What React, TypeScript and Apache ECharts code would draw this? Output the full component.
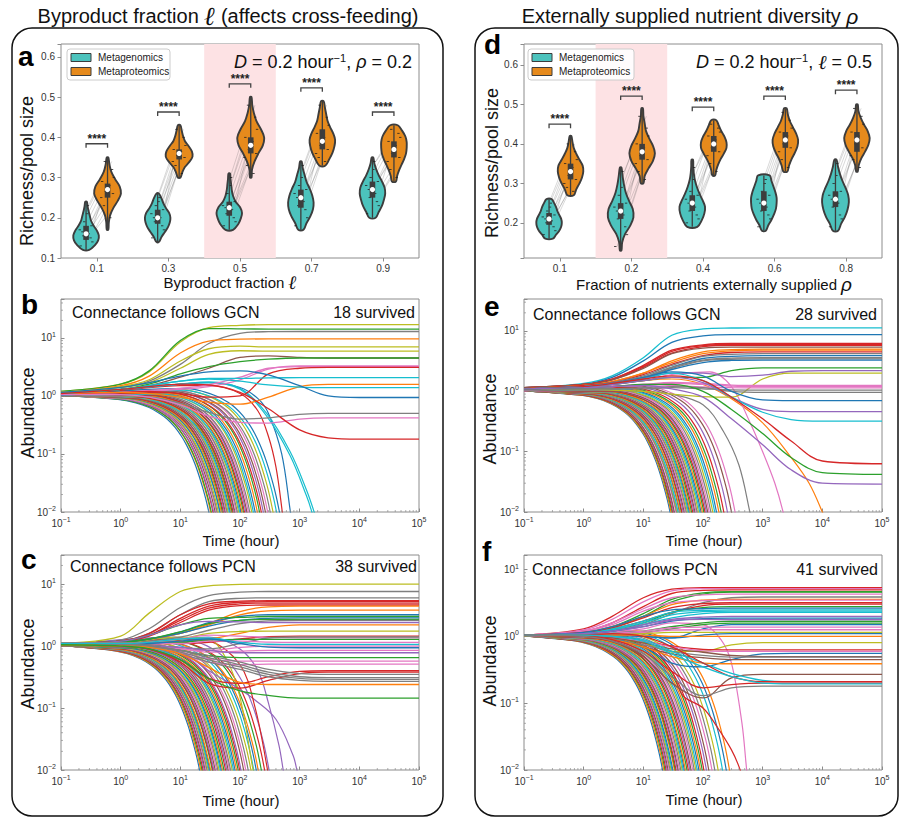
import React, { useEffect, useRef } from 'react';
import * as echarts from 'echarts';

const FONT = '"Liberation Sans", Arial, Helvetica, sans-serif';
const TEAL = '#4cc3bd';
const ORANGE = '#e68a1c';
const EDGE = '#3d3d3d';
const PINK = '#fde2e4';
const AXIS_GRAY = '#8c8c8c';
const LABEL = '#333333';
const TAB10 = ['#1f77b4', '#ff7f0e', '#2ca02c', '#d62728', '#9467bd', '#8c564b', '#e377c2', '#7f7f7f', '#bcbd22', '#17becf'];

// ---------------- Panel a (violins, byproduct fraction) ----------------
const catsA = ['0.1', '0.3', '0.5', '0.7', '0.9'];
const shadedA = 2;
const metaGRangeA = [[0.12, 0.24], [0.14, 0.26], [0.17, 0.31], [0.17, 0.34], [0.20, 0.35]];
const metaGBoxA = [[0.145, 0.16, 0.18], [0.185, 0.20, 0.22], [0.205, 0.225, 0.24], [0.225, 0.25, 0.27], [0.25, 0.27, 0.29]];
const metaGShapeA = [
  [0.25, 0.7, 0.95, 1.0, 0.85, 0.6, 0.4, 0.3, 0.2, 0.12, 0.05],
  [0.1, 0.3, 0.55, 0.8, 0.95, 1.0, 0.9, 0.65, 0.45, 0.3, 0.1],
  [0.3, 0.7, 0.9, 1.0, 0.85, 0.5, 0.3, 0.2, 0.15, 0.1, 0.05],
  [0.2, 0.45, 0.75, 0.95, 1.0, 0.9, 0.7, 0.45, 0.3, 0.15, 0.05],
  [0.25, 0.5, 0.75, 0.9, 1.0, 0.95, 0.75, 0.5, 0.3, 0.15, 0.05],
];
const metaPRangeA = [[0.17, 0.35], [0.30, 0.43], [0.30, 0.50], [0.33, 0.49], [0.29, 0.43]];
const metaPBoxA = [[0.25, 0.27, 0.285], [0.345, 0.36, 0.37], [0.36, 0.38, 0.40], [0.37, 0.39, 0.42], [0.35, 0.37, 0.39]];
const metaPShapeA = [
  [0.05, 0.1, 0.2, 0.45, 0.8, 1.05, 0.95, 0.6, 0.3, 0.15, 0.05],
  [0.1, 0.25, 0.45, 0.8, 1.05, 1.0, 0.75, 0.45, 0.3, 0.2, 0.1],
  [0.05, 0.1, 0.3, 0.6, 0.95, 1.05, 0.8, 0.45, 0.25, 0.12, 0.05],
  [0.25, 0.55, 0.8, 0.95, 1.0, 0.85, 0.6, 0.4, 0.3, 0.2, 0.1],
  [0.15, 0.25, 0.4, 0.6, 0.8, 0.95, 1.0, 1.0, 0.9, 0.65, 0.3],
];
const bracketA = [0.384, 0.463, 0.533, 0.523, 0.463];
const pairGA = [
  [0.13, 0.14, 0.15, 0.155, 0.16, 0.165, 0.17, 0.18, 0.19, 0.21, 0.23],
  [0.15, 0.17, 0.18, 0.19, 0.2, 0.2, 0.21, 0.22, 0.23, 0.24, 0.25],
  [0.18, 0.19, 0.2, 0.21, 0.22, 0.225, 0.23, 0.24, 0.26, 0.28, 0.3],
  [0.18, 0.2, 0.22, 0.23, 0.24, 0.25, 0.26, 0.27, 0.28, 0.3, 0.33],
  [0.21, 0.23, 0.24, 0.25, 0.26, 0.27, 0.28, 0.29, 0.3, 0.32, 0.34],
];
const pairPA = [
  [0.2, 0.23, 0.25, 0.26, 0.265, 0.27, 0.28, 0.29, 0.3, 0.32, 0.34],
  [0.31, 0.33, 0.34, 0.35, 0.355, 0.36, 0.365, 0.37, 0.38, 0.4, 0.42],
  [0.31, 0.33, 0.35, 0.36, 0.37, 0.38, 0.39, 0.4, 0.42, 0.45, 0.48],
  [0.34, 0.35, 0.36, 0.37, 0.38, 0.39, 0.4, 0.41, 0.43, 0.45, 0.48],
  [0.3, 0.32, 0.34, 0.35, 0.36, 0.37, 0.38, 0.39, 0.4, 0.41, 0.42],
];

// ---------------- Panel d (violins, nutrient fraction) ----------------
const catsD = ['0.1', '0.2', '0.4', '0.6', '0.8'];
const shadedD = 1;
const metaGRangeD = [[0.16, 0.26], [0.13, 0.34], [0.19, 0.36], [0.18, 0.32], [0.18, 0.36]];
const metaGBoxD = [[0.195, 0.21, 0.225], [0.21, 0.23, 0.25], [0.23, 0.25, 0.27], [0.23, 0.25, 0.28], [0.24, 0.26, 0.28]];
const metaGShapeD = [
  [0.3, 0.55, 0.8, 0.95, 1.0, 0.95, 0.8, 0.65, 0.55, 0.4, 0.2],
  [0.05, 0.12, 0.35, 0.75, 1.0, 0.95, 0.65, 0.4, 0.25, 0.15, 0.05],
  [0.4, 0.75, 0.95, 1.0, 0.8, 0.55, 0.35, 0.2, 0.12, 0.08, 0.05],
  [0.15, 0.35, 0.6, 0.8, 0.95, 1.0, 1.0, 0.9, 0.75, 0.6, 0.45],
  [0.2, 0.45, 0.75, 0.95, 1.05, 1.0, 0.8, 0.55, 0.35, 0.2, 0.08],
];
const metaPRangeD = [[0.27, 0.42], [0.30, 0.49], [0.32, 0.46], [0.33, 0.49], [0.33, 0.50]];
const metaPBoxD = [[0.31, 0.33, 0.35], [0.36, 0.38, 0.40], [0.38, 0.40, 0.42], [0.39, 0.41, 0.43], [0.38, 0.41, 0.43]];
const metaPShapeD = [
  [0.25, 0.45, 0.7, 0.9, 1.0, 0.95, 0.7, 0.45, 0.25, 0.15, 0.05],
  [0.1, 0.2, 0.5, 0.85, 1.0, 0.85, 0.55, 0.3, 0.2, 0.1, 0.05],
  [0.1, 0.2, 0.35, 0.55, 0.8, 1.0, 1.0, 0.85, 0.6, 0.4, 0.2],
  [0.15, 0.3, 0.5, 0.75, 0.95, 1.0, 0.85, 0.6, 0.35, 0.2, 0.1],
  [0.05, 0.15, 0.35, 0.65, 0.9, 1.0, 0.85, 0.55, 0.3, 0.12, 0.05],
];
const bracketD = [0.45, 0.521, 0.493, 0.521, 0.536];
const pairGD = [
  [0.17, 0.18, 0.19, 0.2, 0.205, 0.21, 0.215, 0.22, 0.23, 0.24, 0.25],
  [0.14, 0.17, 0.19, 0.21, 0.22, 0.23, 0.24, 0.25, 0.27, 0.29, 0.33],
  [0.2, 0.21, 0.22, 0.23, 0.24, 0.25, 0.26, 0.27, 0.28, 0.31, 0.34],
  [0.19, 0.21, 0.22, 0.23, 0.24, 0.25, 0.26, 0.27, 0.28, 0.3, 0.31],
  [0.19, 0.21, 0.22, 0.24, 0.25, 0.26, 0.27, 0.28, 0.3, 0.32, 0.35],
];
const pairPD = [
  [0.28, 0.29, 0.3, 0.31, 0.32, 0.33, 0.34, 0.35, 0.36, 0.38, 0.4],
  [0.31, 0.33, 0.35, 0.36, 0.37, 0.38, 0.39, 0.4, 0.42, 0.44, 0.47],
  [0.33, 0.35, 0.37, 0.38, 0.39, 0.4, 0.41, 0.42, 0.43, 0.44, 0.45],
  [0.34, 0.36, 0.38, 0.39, 0.4, 0.41, 0.42, 0.43, 0.44, 0.46, 0.48],
  [0.34, 0.36, 0.37, 0.39, 0.4, 0.41, 0.42, 0.43, 0.45, 0.47, 0.49],
];

// ---------------- Trajectory panels (b, c, e, f) ----------------
const timeGrid = [0.1, 1, 3, 10, 30, 100, 300, 1000, 3000, 10000, 100000];
// shape of a dying species: time relative to the time it hits 1e-2, value relative to its level
const decayT = [0.03, 0.06, 0.1, 0.15, 0.2, 0.27, 0.35, 0.42, 0.5, 0.58, 0.65, 0.72, 0.8, 0.9, 1.0, 1.25];
const decayV = [0.87, 0.76, 0.63, 0.5, 0.4, 0.29, 0.2, 0.145, 0.1, 0.069, 0.05, 0.036, 0.025, 0.016, 0.01, 0.0032];

// survivors: [tab10 colour index, values at timeGrid]
const survB = [
  [8, [1.2, 1.6, 2.6, 8.5, 15, 16.5, 16.9, 16.9, 16.9, 16.9, 16.9]],
  [2, [1.2, 1.6, 2.7, 9, 14.5, 14.3, 14.2, 14.2, 14.2, 14.2, 14.2]],
  [7, [1.15, 1.4, 1.8, 3.5, 8, 12, 12.8, 12.9, 12.9, 12.9, 12.9]],
  [1, [1.15, 1.5, 2.2, 5.5, 8.8, 9.5, 9.6, 9.6, 9.6, 9.6, 9.6]],
  [8, [1.15, 1.45, 1.9, 4, 6.5, 7.2, 7.0, 7.0, 7.0, 7.0, 7.0]],
  [8, [1.15, 1.4, 1.7, 3, 5.2, 6.0, 5.9, 5.9, 5.9, 5.9, 5.9]],
  [5, [1.1, 1.3, 1.5, 2.1, 3, 4.6, 4.9, 4.6, 4.5, 4.5, 4.5]],
  [2, [1.1, 1.3, 1.6, 2.4, 3.2, 3.9, 4.3, 4.5, 4.5, 4.5, 4.5]],
  [6, [1.1, 1.15, 1.2, 1.3, 1.45, 1.9, 2.9, 3.3, 3.3, 3.3, 3.3]],
  [6, [1.1, 1.15, 1.25, 1.35, 1.55, 2.1, 3.0, 3.2, 3.2, 3.2, 3.2]],
  [3, [1.1, 1.15, 1.2, 1.1, 0.95, 1.0, 2.4, 3.0, 3.1, 3.1, 3.1]],
  [9, [1.1, 1.3, 1.5, 1.8, 2.0, 2.0, 2.05, 2.06, 2.06, 2.06, 2.06]],
  [1, [1.1, 1.15, 1.1, 0.95, 0.78, 0.72, 0.95, 1.45, 1.58, 1.58, 1.58]],
  [9, [1.1, 1.3, 1.5, 1.8, 1.95, 1.8, 1.55, 1.42, 1.39, 1.39, 1.39]],
  [0, [1.15, 1.4, 1.7, 2.2, 2.6, 2.7, 2.3, 1.5, 1.0, 0.94, 0.94]],
  [7, [1.05, 1.05, 0.95, 0.75, 0.52, 0.4, 0.42, 0.48, 0.5, 0.5, 0.5]],
  [6, [1.05, 1.05, 0.95, 0.7, 0.45, 0.35, 0.34, 0.4, 0.42, 0.42, 0.42]],
  [3, [1.1, 1.3, 1.45, 1.6, 1.55, 1.15, 0.6, 0.26, 0.19, 0.18, 0.18]],
];
// extinct: [time when it reaches 1e-2, level]
const extB = [[30, 1.0], [32, 1.02], [33, 1.0], [35, 1.03], [36, 1.01], [38, 1.04], [40, 1.02], [41, 1.05], [43, 1.03], [45, 1.06], [46, 1.04], [48, 1.05], [50, 1.07], [52, 1.05], [54, 1.08], [56, 1.06], [58, 1.1], [60, 1.07], [62, 1.1], [65, 1.08], [67, 1.12], [70, 1.1], [72, 1.12], [75, 1.1], [78, 1.14], [80, 1.12], [84, 1.15], [88, 1.12], [92, 1.16], [96, 1.14], [100, 1.18], [105, 1.15], [110, 1.2], [115, 1.17], [120, 1.22], [126, 1.2], [132, 1.25], [140, 1.22], [150, 1.28], [160, 1.25], [170, 1.3], [185, 1.3], [200, 1.35], [215, 1.32], [230, 1.4], [250, 1.38], [270, 1.45], [300, 1.4], [330, 1.5], [380, 1.45], [420, 1.55]];
const specialB = [
  [3, [0.1, 1, 10, 30, 100, 200, 300, 400, 500, 560], [1.1, 1.25, 1.5, 1.5, 1.1, 0.55, 0.2, 0.06, 0.012, 0.004]],
  [0, [0.1, 1, 10, 30, 100, 200, 300, 500, 700, 800], [1.1, 1.3, 1.6, 1.7, 1.4, 0.9, 0.5, 0.1, 0.01, 0.004]],
  [9, [0.1, 1, 10, 30, 100, 280, 690, 1300, 1600, 1900], [1.1, 1.3, 1.6, 1.7, 1.3, 0.45, 0.094, 0.019, 0.01, 0.005]],
  [9, [0.1, 1, 10, 30, 100, 280, 690, 1300, 1750, 2000], [1.1, 1.3, 1.6, 1.75, 1.35, 0.5, 0.11, 0.024, 0.01, 0.006]],
];

const survC = [
  [8, [1.1, 1.45, 3.4, 7.6, 9.4, 9.9, 10, 10, 10, 10, 10]],
  [7, [1.1, 1.25, 1.9, 4.2, 6.5, 7.4, 7.6, 7.6, 7.6, 7.6, 7.6]],
  [7, [1.1, 1.2, 1.6, 3.2, 5.2, 5.9, 6.0, 6.0, 6.0, 6.0, 6.0]],
  [3, [1.1, 1.2, 1.6, 3.2, 4.8, 5.3, 5.4, 5.4, 5.4, 5.4, 5.4]],
  [3, [1.1, 1.2, 1.5, 2.8, 4.4, 5.1, 5.2, 5.2, 5.2, 5.2, 5.2]],
  [3, [1.1, 1.2, 1.5, 2.6, 4.1, 4.8, 4.95, 4.95, 4.95, 4.95, 4.95]],
  [3, [1.1, 1.2, 1.45, 2.4, 3.8, 4.5, 4.6, 4.6, 4.6, 4.6, 4.6]],
  [1, [1.1, 1.15, 1.3, 1.6, 2.3, 3.6, 4.3, 4.4, 4.4, 4.4, 4.4]],
  [1, [1.1, 1.15, 1.3, 1.6, 2.2, 3.2, 3.7, 3.8, 3.8, 3.8, 3.8]],
  [0, [1.1, 1.15, 1.3, 1.7, 2.4, 3.0, 3.2, 3.2, 3.2, 3.2, 3.2]],
  [2, [1.1, 1.2, 1.5, 2.2, 2.8, 2.9, 3.0, 3.0, 3.0, 3.0, 3.0]],
  [0, [1.1, 1.15, 1.3, 1.6, 2.1, 2.6, 2.8, 2.85, 2.85, 2.85, 2.85]],
  [2, [1.1, 1.15, 1.3, 1.7, 2.3, 2.6, 2.7, 2.7, 2.7, 2.7, 2.7]],
  [7, [1.1, 1.1, 1.2, 1.4, 1.8, 2.3, 2.55, 2.6, 2.6, 2.6, 2.6]],
  [4, [1.1, 1.2, 1.5, 2.2, 2.5, 2.45, 2.4, 2.4, 2.4, 2.4, 2.4]],
  [1, [1.1, 1.1, 1.15, 1.2, 1.3, 1.6, 2.0, 2.2, 2.2, 2.2, 2.2]],
  [8, [1.1, 1.1, 1.15, 1.3, 1.6, 1.72, 1.74, 1.74, 1.74, 1.74, 1.74]],
  [3, [1.1, 1.1, 1.1, 1.1, 1.15, 1.3, 1.42, 1.45, 1.45, 1.45, 1.45]],
  [6, [1.1, 1.1, 1.15, 1.3, 1.5, 1.45, 1.38, 1.36, 1.36, 1.36, 1.36]],
  [7, [1.1, 1.1, 1.05, 0.95, 0.9, 1.1, 1.35, 1.4, 1.4, 1.4, 1.4]],
  [2, [1.1, 1.1, 1.1, 1.15, 1.25, 1.28, 1.28, 1.28, 1.28, 1.28, 1.28]],
  [6, [1.1, 1.1, 1.1, 1.1, 1.2, 1.2, 1.16, 1.15, 1.15, 1.15, 1.15]],
  [9, [1.1, 1.1, 1.15, 1.3, 1.35, 1.15, 1.07, 1.06, 1.06, 1.06, 1.06]],
  [6, [1.05, 1.05, 1.0, 0.9, 0.85, 0.95, 1.0, 1.0, 1.0, 1.0, 1.0]],
  [0, [1.05, 1.05, 1.1, 1.2, 1.3, 1.1, 0.96, 0.94, 0.94, 0.94, 0.94]],
  [6, [1.05, 1.05, 1.0, 0.9, 0.8, 0.83, 0.85, 0.85, 0.85, 0.85, 0.85]],
  [4, [1.05, 1.05, 1.0, 0.95, 0.85, 0.78, 0.78, 0.78, 0.78, 0.78, 0.78]],
  [2, [1.05, 1.05, 1.0, 0.85, 0.7, 0.65, 0.65, 0.65, 0.65, 0.65, 0.65]],
  [6, [1.05, 1.05, 0.95, 0.8, 0.62, 0.57, 0.57, 0.57, 0.57, 0.57, 0.57]],
  [6, [1.05, 1.05, 0.95, 0.75, 0.55, 0.5, 0.51, 0.51, 0.51, 0.51, 0.51]],
  [3, [1.05, 1.0, 0.9, 0.6, 0.3, 0.25, 0.32, 0.39, 0.4, 0.4, 0.4]],
  [3, [1.05, 1.0, 0.9, 0.55, 0.25, 0.21, 0.28, 0.36, 0.38, 0.38, 0.38]],
  [7, [1.05, 1.05, 1.0, 0.85, 0.7, 0.55, 0.42, 0.36, 0.35, 0.35, 0.35]],
  [7, [1.05, 1.05, 1.0, 0.85, 0.65, 0.5, 0.38, 0.32, 0.31, 0.31, 0.31]],
  [7, [1.05, 1.05, 1.0, 0.8, 0.6, 0.46, 0.35, 0.3, 0.29, 0.29, 0.29]],
  [7, [1.05, 1.05, 0.95, 0.75, 0.55, 0.42, 0.32, 0.28, 0.27, 0.27, 0.27]],
  [1, [1.05, 1.0, 0.95, 0.75, 0.45, 0.26, 0.24, 0.24, 0.24, 0.24, 0.24]],
  [2, [1.05, 1.0, 0.9, 0.6, 0.3, 0.19, 0.16, 0.145, 0.145, 0.145, 0.145]],
];
const extC = [[21, 1.0], [22, 1.0], [23, 1.01], [24, 1.0], [25, 1.02], [26, 1.01], [27, 1.02], [28, 1.0], [29, 1.03], [30, 1.02], [31, 1.03], [32, 1.02], [34, 1.04], [35, 1.03], [36, 1.05], [38, 1.04], [40, 1.05], [42, 1.06], [44, 1.05], [46, 1.07], [48, 1.06], [50, 1.08], [53, 1.07], [56, 1.1], [59, 1.08], [62, 1.1], [65, 1.12], [68, 1.1], [72, 1.14], [76, 1.12], [80, 1.15], [85, 1.15], [90, 1.18], [95, 1.2], [100, 1.2], [110, 1.25], [120, 1.22], [130, 1.3], [145, 1.28], [160, 1.35], [175, 1.4], [190, 1.35], [210, 1.5], [240, 1.45], [280, 1.6]];
const specialC = [
  [4, [0.1, 1, 10, 30, 100, 200, 300, 450, 530, 600], [1.05, 1.1, 1.3, 1.4, 0.9, 0.4, 0.12, 0.025, 0.01, 0.005]],
  [4, [0.1, 1, 10, 30, 100, 170, 400, 780, 900, 1000], [1.05, 1.05, 0.8, 0.4, 0.2, 0.14, 0.066, 0.017, 0.01, 0.007]],
  [3, [0.1, 1, 10, 30, 100, 180, 280, 320], [1.05, 1.1, 1.3, 1.2, 0.5, 0.1, 0.012, 0.005]],
  [8, [0.1, 1, 10, 30, 60, 100, 160, 200], [1.05, 1.1, 1.4, 1.3, 0.6, 0.15, 0.012, 0.004]],
];

const survE = [
  [9, [1.15, 1.35, 1.8, 3.6, 8.5, 10.8, 11.2, 11.3, 11.3, 11.3, 11.3]],
  [0, [1.15, 1.3, 1.7, 3.2, 6.5, 8.3, 8.7, 8.7, 8.7, 8.7, 8.7]],
  [3, [1.15, 1.3, 1.6, 2.7, 4.8, 5.9, 6.2, 6.2, 6.2, 6.2, 6.2]],
  [3, [1.15, 1.3, 1.6, 2.6, 4.6, 5.7, 6.0, 6.0, 6.0, 6.0, 6.0]],
  [3, [1.15, 1.3, 1.55, 2.5, 4.3, 5.5, 5.8, 5.8, 5.8, 5.8, 5.8]],
  [5, [1.15, 1.3, 1.55, 2.4, 4.2, 5.2, 5.4, 5.4, 5.4, 5.4, 5.4]],
  [1, [1.1, 1.25, 1.45, 2.0, 3.2, 4.5, 4.9, 5.0, 5.0, 5.0, 5.0]],
  [1, [1.1, 1.25, 1.45, 2.0, 3.0, 4.2, 4.7, 4.8, 4.8, 4.8, 4.8]],
  [3, [1.1, 1.25, 1.4, 1.9, 2.8, 3.9, 4.4, 4.5, 4.5, 4.5, 4.5]],
  [7, [1.1, 1.2, 1.4, 1.8, 2.7, 3.8, 4.1, 4.2, 4.2, 4.2, 4.2]],
  [0, [1.1, 1.2, 1.35, 1.7, 2.5, 3.5, 3.8, 3.9, 3.9, 3.9, 3.9]],
  [7, [1.1, 1.2, 1.35, 1.7, 2.5, 3.3, 3.55, 3.6, 3.6, 3.6, 3.6]],
  [7, [1.1, 1.2, 1.35, 1.65, 2.4, 3.2, 3.4, 3.45, 3.45, 3.45, 3.45]],
  [0, [1.1, 1.2, 1.3, 1.6, 2.3, 3.0, 3.25, 3.3, 3.3, 3.3, 3.3]],
  [2, [1.1, 1.2, 1.3, 1.5, 1.7, 1.7, 2.2, 2.45, 2.45, 2.45, 2.45]],
  [4, [1.1, 1.2, 1.3, 1.6, 2.0, 2.0, 1.75, 1.85, 2.15, 2.2, 2.2]],
  [8, [1.1, 1.1, 1.05, 1.0, 0.9, 0.82, 0.8, 1.6, 2.0, 2.0, 2.0]],
  [6, [1.1, 1.15, 1.2, 1.3, 1.4, 1.35, 1.27, 1.25, 1.25, 1.25, 1.25]],
  [6, [1.1, 1.15, 1.2, 1.25, 1.35, 1.3, 1.22, 1.2, 1.2, 1.2, 1.2]],
  [6, [1.1, 1.15, 1.2, 1.3, 1.25, 1.18, 1.15, 1.14, 1.14, 1.14, 1.14]],
  [7, [1.1, 1.1, 1.1, 1.1, 1.15, 1.1, 1.06, 1.05, 1.05, 1.05, 1.05]],
  [7, [1.1, 1.1, 1.1, 1.15, 1.2, 1.15, 1.0, 0.96, 0.96, 0.96, 0.96]],
  [0, [1.1, 1.2, 1.35, 1.7, 2.1, 1.8, 1.0, 0.72, 0.7, 0.7, 0.7]],
  [4, [1.1, 1.2, 1.3, 1.5, 1.7, 1.4, 0.8, 0.5, 0.46, 0.46, 0.46]],
  [9, [1.1, 1.2, 1.35, 1.6, 2.0, 1.5, 0.8, 0.45, 0.34, 0.32, 0.32]],
  [3, [1.1, 1.2, 1.35, 1.6, 1.8, 1.5, 0.8, 0.35, 0.15, 0.07, 0.063]],
  [2, [1.1, 1.15, 1.2, 1.3, 1.3, 1.0, 0.5, 0.2, 0.08, 0.045, 0.042]],
  [4, [1.1, 1.15, 1.2, 1.25, 1.1, 0.8, 0.35, 0.13, 0.05, 0.03, 0.029]],
];
const extE = [[28, 1.0], [29, 1.0], [30, 1.01], [31, 1.0], [32, 1.02], [33, 1.01], [35, 1.02], [36, 1.01], [37, 1.03], [38, 1.02], [40, 1.03], [41, 1.02], [43, 1.04], [44, 1.03], [46, 1.05], [48, 1.04], [50, 1.06], [52, 1.05], [54, 1.07], [56, 1.06], [58, 1.08], [60, 1.07], [63, 1.09], [66, 1.08], [69, 1.1], [72, 1.09], [75, 1.11], [78, 1.1], [82, 1.12], [86, 1.12], [90, 1.14], [95, 1.13], [100, 1.16], [105, 1.15], [110, 1.18], [116, 1.17], [122, 1.2], [130, 1.22], [140, 1.22], [150, 1.25], [160, 1.28], [175, 1.3], [190, 1.32], [210, 1.35], [240, 1.4], [280, 1.42], [320, 1.45]];
const specialE = [
  [1, [0.1, 1, 10, 30, 100, 300, 1000, 3000, 6000, 10000, 12000], [1.1, 1.2, 1.5, 1.6, 1.3, 0.75, 0.3, 0.08, 0.03, 0.01, 0.006]],
  [6, [0.1, 1, 10, 30, 130, 300, 600, 1000, 1600, 2200, 2500], [1.1, 1.2, 1.5, 1.9, 2.1, 1.2, 0.32, 0.1, 0.03, 0.01, 0.005]],
  [7, [0.1, 1, 10, 30, 100, 218, 400, 610, 700], [1.05, 1.05, 1.0, 0.9, 0.6, 0.22, 0.06, 0.01, 0.005]],
];

const survF = [
  [3, [1.05, 1.3, 2.0, 3.8, 5.1, 5.4, 5.4, 5.4, 5.4, 5.4, 5.4]],
  [6, [1.05, 1.25, 1.8, 3.3, 4.8, 5.2, 5.2, 5.2, 5.2, 5.2, 5.2]],
  [3, [1.05, 1.2, 1.6, 2.8, 4.4, 4.9, 5.0, 5.0, 5.0, 5.0, 5.0]],
  [2, [1.05, 1.15, 1.4, 2.2, 3.6, 4.5, 4.7, 4.7, 4.7, 4.7, 4.7]],
  [2, [1.05, 1.15, 1.35, 2.0, 3.3, 4.3, 4.6, 4.6, 4.6, 4.6, 4.6]],
  [6, [1.05, 1.2, 1.6, 2.6, 3.8, 4.2, 4.3, 4.3, 4.3, 4.3, 4.3]],
  [7, [1.05, 1.1, 1.2, 1.5, 2.2, 3.2, 3.8, 3.9, 3.9, 3.9, 3.9]],
  [1, [1.05, 1.15, 1.4, 2.0, 3.0, 3.5, 3.6, 3.6, 3.6, 3.6, 3.6]],
  [6, [1.05, 1.2, 1.5, 2.4, 3.2, 3.45, 3.5, 3.5, 3.5, 3.5, 3.5]],
  [3, [1.05, 1.15, 1.35, 1.9, 2.7, 3.1, 3.2, 3.2, 3.2, 3.2, 3.2]],
  [3, [1.05, 1.1, 1.3, 1.7, 2.3, 2.9, 3.05, 3.05, 3.05, 3.05, 3.05]],
  [2, [1.05, 1.1, 1.25, 1.6, 2.3, 2.7, 2.8, 2.8, 2.8, 2.8, 2.8]],
  [0, [1.05, 1.15, 1.4, 2.0, 2.5, 2.6, 2.65, 2.65, 2.65, 2.65, 2.65]],
  [9, [1.05, 1.1, 1.3, 1.7, 2.3, 2.45, 2.5, 2.5, 2.5, 2.5, 2.5]],
  [9, [1.05, 1.1, 1.25, 1.6, 2.1, 2.35, 2.4, 2.4, 2.4, 2.4, 2.4]],
  [9, [1.05, 1.1, 1.2, 1.5, 1.9, 2.2, 2.3, 2.3, 2.3, 2.3, 2.3]],
  [4, [1.05, 1.1, 1.2, 1.5, 1.8, 1.95, 2.0, 2.0, 2.0, 2.0, 2.0]],
  [0, [1.05, 1.1, 1.2, 1.4, 1.7, 1.85, 1.88, 1.88, 1.88, 1.88, 1.88]],
  [4, [1.05, 1.1, 1.2, 1.4, 1.75, 1.8, 1.78, 1.78, 1.78, 1.78, 1.78]],
  [2, [1.05, 1.05, 1.1, 1.2, 1.4, 1.6, 1.68, 1.68, 1.68, 1.68, 1.68]],
  [2, [1.05, 1.05, 1.1, 1.15, 1.3, 1.5, 1.58, 1.58, 1.58, 1.58, 1.58]],
  [0, [1.05, 1.05, 1.05, 1.0, 0.95, 1.3, 1.5, 1.5, 1.5, 1.5, 1.5]],
  [6, [1.05, 1.05, 1.1, 1.2, 1.35, 1.38, 1.38, 1.38, 1.38, 1.38, 1.38]],
  [6, [1.05, 1.05, 1.1, 1.15, 1.25, 1.26, 1.26, 1.26, 1.26, 1.26, 1.26]],
  [8, [1.05, 1.05, 1.05, 1.1, 1.15, 1.15, 1.15, 1.15, 1.15, 1.15, 1.15]],
  [0, [1.05, 1.05, 1.05, 1.0, 0.95, 1.05, 1.1, 1.1, 1.1, 1.1, 1.1]],
  [1, [1.05, 1.05, 1.05, 1.05, 1.0, 1.0, 1.0, 1.0, 1.0, 1.0, 1.0]],
  [8, [1.05, 1.0, 0.95, 0.8, 0.6, 0.6, 0.75, 0.81, 0.81, 0.81, 0.81]],
  [3, [1.05, 1.0, 0.95, 0.85, 0.72, 0.64, 0.63, 0.63, 0.63, 0.63, 0.63]],
  [6, [1.05, 1.0, 0.95, 0.85, 0.7, 0.61, 0.6, 0.6, 0.6, 0.6, 0.6]],
  [0, [1.05, 1.0, 0.9, 0.7, 0.4, 0.35, 0.45, 0.55, 0.56, 0.56, 0.56]],
  [5, [1.05, 1.0, 0.95, 0.8, 0.65, 0.58, 0.52, 0.5, 0.5, 0.5, 0.5]],
  [7, [1.05, 1.0, 0.9, 0.75, 0.6, 0.52, 0.49, 0.49, 0.49, 0.49, 0.49]],
  [5, [1.05, 1.0, 0.9, 0.7, 0.55, 0.48, 0.45, 0.45, 0.45, 0.45, 0.45]],
  [1, [1.05, 1.0, 0.9, 0.7, 0.5, 0.4, 0.39, 0.39, 0.39, 0.39, 0.39]],
  [5, [1.05, 1.0, 0.85, 0.5, 0.2, 0.12, 0.24, 0.27, 0.27, 0.27, 0.27]],
  [9, [1.05, 1.05, 1.0, 0.9, 0.6, 0.4, 0.28, 0.22, 0.21, 0.21, 0.21]],
  [3, [1.05, 1.05, 1.1, 1.0, 0.7, 0.4, 0.25, 0.21, 0.21, 0.21, 0.21]],
  [3, [1.05, 1.0, 0.9, 0.6, 0.3, 0.17, 0.19, 0.2, 0.2, 0.2, 0.2]],
  [9, [1.05, 1.05, 1.0, 0.85, 0.55, 0.35, 0.25, 0.2, 0.195, 0.195, 0.195]],
  [7, [1.05, 1.0, 0.85, 0.55, 0.25, 0.13, 0.17, 0.18, 0.18, 0.18, 0.18]],
];
const extF = [[21, 1.0], [22, 1.0], [23, 1.01], [24, 1.0], [25, 1.01], [26, 1.0], [27, 1.02], [28, 1.01], [29, 1.02], [30, 1.02], [31, 1.03], [33, 1.02], [34, 1.03], [35, 1.04], [37, 1.03], [38, 1.05], [40, 1.04], [42, 1.05], [44, 1.06], [46, 1.05], [48, 1.07], [50, 1.06], [53, 1.08], [56, 1.07], [59, 1.09], [62, 1.08], [66, 1.1], [70, 1.1], [74, 1.12], [78, 1.12], [83, 1.14], [88, 1.15], [94, 1.16], [100, 1.18], [110, 1.2], [120, 1.22], [135, 1.25], [150, 1.28], [170, 1.3], [200, 1.35], [230, 1.38], [260, 1.4]];
const specialF = [
  [3, [0.1, 1, 10, 30, 46, 100, 170, 300, 420, 480], [1.05, 1.05, 0.85, 0.3, 0.13, 0.085, 0.045, 0.02, 0.01, 0.006]],
  [6, [0.1, 1, 10, 30, 100, 200, 300, 450, 540, 600], [1.05, 1.1, 1.3, 1.6, 1.5, 0.9, 0.4, 0.05, 0.01, 0.005]],
];

const yMaxB = 46.8;
const yMaxC = 29.5;
const yMaxE = 33.9;
const yMaxF = 16.6;

const JIT = [-6, 3, -2, 7, -4, 1, 5, -7, 2, -3, 6];
const MINOR_MANT = [2, 3, 4, 5, 6, 7, 8, 9];
const X_DECADES = [-1, 0, 1, 2, 3, 4];

function violinSeries(gi: number, d: any) {
  return {
    type: 'custom', xAxisIndex: gi, yAxisIndex: gi, silent: true, z: 3,
    data: d.cats.map((_: any, i: number) => [i, d.gBox[i][1]]),
    renderItem: (params: any, api: any) => {
      const i = params.dataIndex;
      const bw = api.size([1, 0])[0];
      const c = api.coord([i, 0.3])[0];
      const y = (v: number) => api.coord([i, v])[1];
      const xs = [c - 0.15 * bw, c + 0.15 * bw];
      const hw = 0.178 * bw;
      const ch: any[] = [];
      const g = d.pairG[i];
      const p = d.pairP[i];
      g.forEach((v: number, k: number) => {
        ch.push({ type: 'line', shape: { x1: xs[0] + JIT[k] * 0.6, y1: y(v), x2: xs[1] + JIT[(k + 4) % JIT.length] * 0.6, y2: y(p[k]) }, style: { stroke: 'rgba(70,70,70,0.35)', lineWidth: 0.6 } });
      });
      const hues = [[d.gRange, d.gShape, d.gBox, TEAL, g], [d.pRange, d.pShape, d.pBox, ORANGE, p]];
      hues.forEach((hu: any, h: number) => {
        const [R, S, B, col, vals] = hu;
        const [lo, hi] = R[i];
        const prof = S[i];
        const n = prof.length;
        const cx = xs[h];
        const left: number[][] = [];
        const right: number[][] = [];
        prof.forEach((w: number, j: number) => {
          const v = lo + (hi - lo) * j / (n - 1);
          left.push([cx - Math.max(w, 0.06) * hw, y(v)]);
          right.push([cx + Math.max(w, 0.06) * hw, y(v)]);
        });
        const pts = left.concat(right.reverse());
        ch.push({ type: 'polygon', shape: { points: pts, smooth: 0.35 }, style: { fill: col, stroke: EDGE, lineWidth: 1.9 } });
        vals.forEach((v: number, k: number) => {
          ch.push({ type: 'rect', shape: { x: cx + JIT[(k * 3 + h) % JIT.length] * 0.9 - 1.2, y: y(v) - 0.4, width: 2.4, height: 0.8 }, style: { fill: '#222' } });
        });
        ch.push({ type: 'line', shape: { x1: cx, y1: y(lo), x2: cx, y2: y(hi) }, style: { stroke: EDGE, lineWidth: 1.3 } });
        ch.push({ type: 'rect', shape: { x: cx - 2.8, y: y(B[i][2]), width: 5.6, height: y(B[i][0]) - y(B[i][2]) }, style: { fill: EDGE } });
        ch.push({ type: 'circle', shape: { cx, cy: y(B[i][1]), r: 2.6 }, style: { fill: '#ffffff' } });
      });
      const yb = y(d.bracket[i]);
      ch.push({ type: 'polyline', shape: { points: [[xs[0], yb + 4], [xs[0], yb], [xs[1], yb], [xs[1], yb + 4]] }, style: { stroke: '#444', lineWidth: 1.3, fill: 'none' } });
      ch.push({ type: 'text', x: (xs[0] + xs[1]) / 2, y: yb + 1, style: { text: '****', fontSize: 12, fontWeight: 'bold', fontFamily: FONT, align: 'center', verticalAlign: 'bottom', fill: '#222' } });
      return { type: 'group', children: ch };
    },
  };
}

function bandSeries(gi: number, idx: number) {
  return {
    type: 'custom', xAxisIndex: gi, yAxisIndex: gi, silent: true, z: 1,
    data: [[idx, 0.3]],
    renderItem: (params: any, api: any) => {
      const bw = api.size([1, 0])[0];
      const c = api.coord([idx, 0.3])[0];
      const cs = params.coordSys;
      return { type: 'rect', shape: { x: c - bw / 2, y: cs.y, width: bw, height: cs.height }, style: { fill: PINK } };
    },
  };
}

function minorTickSeries(gi: number, yDecades: number[], yMax: number) {
  return {
    type: 'custom', xAxisIndex: gi, yAxisIndex: gi, silent: true, z: 4,
    data: [[1, 1]],
    renderItem: (params: any, api: any) => {
      const cs = params.coordSys;
      const ch: any[] = [];
      X_DECADES.forEach((e) => MINOR_MANT.forEach((m) => {
        const x = api.coord([m * Math.pow(10, e), 1])[0];
        ch.push({ type: 'line', shape: { x1: x, y1: cs.y + cs.height, x2: x, y2: cs.y + cs.height - 2 }, style: { stroke: AXIS_GRAY, lineWidth: 0.7 } });
      }));
      yDecades.forEach((e) => MINOR_MANT.forEach((m) => {
        const v = m * Math.pow(10, e);
        if (v > yMax) return;
        const yy = api.coord([1, v])[1];
        ch.push({ type: 'line', shape: { x1: cs.x, y1: yy, x2: cs.x + 2, y2: yy }, style: { stroke: AXIS_GRAY, lineWidth: 0.7 } });
      }));
      return { type: 'group', children: ch };
    },
  };
}

function trajSeries(gi: number, surv: any[], ext: any[], spec: any[]) {
  const base = { type: 'line', xAxisIndex: gi, yAxisIndex: gi, showSymbol: false, symbol: 'none', smooth: 0.35, silent: true, clip: true, z: 2 };
  const out: any[] = [];
  ext.forEach(([te, lvl]: number[], k: number) => {
    const data: number[][] = [[0.1, 1.02]];
    decayT.forEach((f, j) => { const t = te * f; if (t > 0.1) data.push([t, lvl * decayV[j]]); });
    out.push({ ...base, data, lineStyle: { color: TAB10[k % 10], width: 1.2 } });
  });
  spec.forEach(([c, ts, vs]: any) => {
    out.push({ ...base, data: ts.map((t: number, j: number) => [t, vs[j]]), lineStyle: { color: TAB10[c], width: 1.2 } });
  });
  surv.forEach(([c, vs]: any) => {
    out.push({ ...base, data: timeGrid.map((t, j) => [t, vs[j]]), lineStyle: { color: TAB10[c], width: 1.3 } });
  });
  return out;
}

const supRich = { s: { fontSize: 7, fontFamily: FONT, color: LABEL, padding: [0, 0, 7, 0] } };
const logLabel = (v: number) => {
  const e = Math.log10(v);
  const r = Math.round(e);
  if (Math.abs(e - r) > 1e-6) return '';
  return '10{s|' + (r < 0 ? '\u2212' + (-r) : String(r)) + '}';
};
const decLabel = (v: number) => (Math.abs(v * 10 - Math.round(v * 10)) < 1e-6 ? v.toFixed(1) : '');

function logXAxis(gi: number) {
  return {
    type: 'log', logBase: 10, gridIndex: gi, min: 0.1, max: 100000,
    axisLine: { show: false }, splitLine: { show: false },
    axisTick: { show: true, inside: true, length: 3.5, lineStyle: { color: AXIS_GRAY } },
    axisLabel: { formatter: logLabel, rich: supRich, fontSize: 10, fontFamily: FONT, color: LABEL, margin: 4 },
  };
}
function logYAxis(gi: number, max: number) {
  return {
    type: 'log', logBase: 10, gridIndex: gi, min: 0.01, max,
    axisLine: { show: false }, splitLine: { show: false },
    axisTick: { show: true, inside: true, length: 3.5, lineStyle: { color: AXIS_GRAY } },
    axisLabel: { formatter: logLabel, rich: supRich, fontSize: 10, fontFamily: FONT, color: LABEL, margin: 5 },
  };
}
function catXAxis(gi: number, cats: string[]) {
  return {
    type: 'category', gridIndex: gi, data: cats,
    axisLine: { show: false }, splitLine: { show: false },
    axisTick: { show: true, alignWithLabel: true, length: 3.5, lineStyle: { color: AXIS_GRAY } },
    axisLabel: { fontSize: 10, fontFamily: FONT, color: LABEL, margin: 5 },
  };
}
function valYAxis(gi: number, min: number, max: number, interval?: number) {
  const ax: any = {
    type: 'value', gridIndex: gi, min, max,
    axisLine: { show: false }, splitLine: { show: false },
    axisTick: { show: true, length: 3.5, lineStyle: { color: AXIS_GRAY } },
    axisLabel: { formatter: decLabel, fontSize: 10, fontFamily: FONT, color: LABEL, margin: 6 },
  };
  if (interval) ax.interval = interval;
  return ax;
}

function txt(x: number, y: number, text: string, o: any = {}) {
  const { rotation, z, ...style } = o;
  const el: any = { type: 'text', x, y, z: z ?? 50, style: { text, fontFamily: FONT, fill: '#111', fontSize: 16, align: 'left', verticalAlign: 'middle', ...style } };
  if (rotation) el.rotation = rotation;
  return el;
}

function legendEls(x: number, y: number, w: number) {
  return [
    { type: 'rect', z: 60, shape: { x, y, width: w, height: 31, r: 3 }, style: { fill: 'rgba(255,255,255,0.9)', stroke: '#cccccc', lineWidth: 1 } },
    { type: 'rect', z: 61, shape: { x: x + 4, y: y + 4.5, width: 20, height: 8 }, style: { fill: TEAL, stroke: EDGE, lineWidth: 1 } },
    txt(x + 31, y + 8.5, 'Metagenomics', { fontSize: 10, fill: '#222', z: 61 }),
    { type: 'rect', z: 61, shape: { x: x + 4, y: y + 18.5, width: 20, height: 8 }, style: { fill: ORANGE, stroke: EDGE, lineWidth: 1 } },
    txt(x + 31, y + 22.5, 'Metaproteomics', { fontSize: 10, fill: '#222', z: 61 }),
  ];
}

const annoRich = {
  i: { fontStyle: 'italic', fontSize: 18, fontFamily: FONT, color: '#111' },
  s: { fontSize: 11, fontFamily: FONT, color: '#111', padding: [0, 0, 9, 0] },
  l: { fontSize: 20, fontFamily: '"DejaVu Serif", serif', fontStyle: 'italic', color: '#111' },
};

export default function App() {
  const ref = useRef<HTMLDivElement>(null);
  useEffect(() => {
    document.body.style.margin = '0';
    if (!ref.current) return;
    const chart = echarts.init(ref.current, undefined, { renderer: 'svg' });
    const dataA = { cats: catsA, gRange: metaGRangeA, gBox: metaGBoxA, gShape: metaGShapeA, pRange: metaPRangeA, pBox: metaPBoxA, pShape: metaPShapeA, bracket: bracketA, pairG: pairGA, pairP: pairPA };
    const dataD = { cats: catsD, gRange: metaGRangeD, gBox: metaGBoxD, gShape: metaGShapeD, pRange: metaPRangeD, pBox: metaPBoxD, pShape: metaPShapeD, bracket: bracketD, pairG: pairGD, pairP: pairPD };
    const gridBase = { show: true, borderColor: AXIS_GRAY, borderWidth: 1, backgroundColor: 'transparent', containLabel: false };
    const option: any = {
      animation: false,
      grid: [
        { ...gridBase, left: 61, top: 44, width: 358, height: 214 },
        { ...gridBase, left: 61, top: 299, width: 358, height: 213 },
        { ...gridBase, left: 61, top: 555, width: 358, height: 215 },
        { ...gridBase, left: 524, top: 44, width: 358, height: 214 },
        { ...gridBase, left: 524, top: 299, width: 358, height: 213 },
        { ...gridBase, left: 524, top: 555, width: 358, height: 215 },
      ],
      xAxis: [catXAxis(0, catsA), logXAxis(1), logXAxis(2), catXAxis(3, catsD), logXAxis(4), logXAxis(5)],
      yAxis: [valYAxis(0, 0.1, 0.632, 0.1), logYAxis(1, yMaxB), logYAxis(2, yMaxC), valYAxis(3, 0.111, 0.653), logYAxis(4, yMaxE), logYAxis(5, yMaxF)],
      series: [
        bandSeries(0, shadedA),
        violinSeries(0, dataA),
        bandSeries(3, shadedD),
        violinSeries(3, dataD),
        ...trajSeries(1, survB, extB, specialB),
        ...trajSeries(2, survC, extC, specialC),
        ...trajSeries(4, survE, extE, specialE),
        ...trajSeries(5, survF, extF, specialF),
        minorTickSeries(1, [-2, -1, 0, 1], yMaxB),
        minorTickSeries(2, [-2, -1, 0, 1], yMaxC),
        minorTickSeries(4, [-2, -1, 0, 1], yMaxE),
        minorTickSeries(5, [-2, -1, 0, 1], yMaxF),
      ],
      graphic: [
        { type: 'rect', z: 0, shape: { x: 12, y: 28, width: 431, height: 788, r: 20 }, style: { fill: 'none', stroke: '#111', lineWidth: 1.5 } },
        { type: 'rect', z: 0, shape: { x: 475, y: 28, width: 423, height: 788, r: 20 }, style: { fill: 'none', stroke: '#111', lineWidth: 1.5 } },
        txt(228, 16, 'Byproduct fraction {l|\u2113} (affects cross-feeding)', { fontSize: 20, align: 'center', rich: { l: { fontSize: 26, fontFamily: '"DejaVu Serif", serif', fontWeight: 'bold', fontStyle: 'italic', color: '#111' } } }),
        txt(690, 16, 'Externally supplied nutrient diversity {r|\u03c1}', { fontSize: 20, align: 'center', rich: { r: { fontSize: 21, fontStyle: 'italic', fontFamily: FONT, color: '#111' } } }),
        txt(18, 56, 'a', { fontSize: 28, fontWeight: 'bold', fill: '#000' }),
        txt(21, 304, 'b', { fontSize: 28, fontWeight: 'bold', fill: '#000' }),
        txt(21, 559, 'c', { fontSize: 28, fontWeight: 'bold', fill: '#000' }),
        txt(484, 44, 'd', { fontSize: 28, fontWeight: 'bold', fill: '#000' }),
        txt(484, 306, 'e', { fontSize: 28, fontWeight: 'bold', fill: '#000' }),
        txt(482, 551, 'f', { fontSize: 28, fontWeight: 'bold', fill: '#000' }),
        txt(27, 171, 'Richness/pool size', { fontSize: 18, align: 'center', rotation: Math.PI / 2 }),
        txt(492, 163, 'Richness/pool size', { fontSize: 18, align: 'center', rotation: Math.PI / 2 }),
        txt(28, 413, 'Abundance', { fontSize: 18, align: 'center', rotation: Math.PI / 2 }),
        txt(28, 664, 'Abundance', { fontSize: 18, align: 'center', rotation: Math.PI / 2 }),
        txt(490, 419, 'Abundance', { fontSize: 18, align: 'center', rotation: Math.PI / 2 }),
        txt(490, 661, 'Abundance', { fontSize: 18, align: 'center', rotation: Math.PI / 2 }),
        txt(230, 282, 'Byproduct fraction {l|\u2113}', { fontSize: 15, align: 'center', rich: { l: { fontSize: 19, fontFamily: '"DejaVu Serif", serif', fontWeight: 'bold', fontStyle: 'italic', color: '#111' } } }),
        txt(714, 284, 'Fraction of nutrients externally supplied {r|\u03c1}', { fontSize: 15, align: 'center', rich: { r: { fontSize: 19, fontStyle: 'italic', fontFamily: FONT, color: '#111' } } }),
        txt(241, 540, 'Time (hour)', { fontSize: 15, align: 'center' }),
        txt(241, 800, 'Time (hour)', { fontSize: 15, align: 'center' }),
        txt(704, 540, 'Time (hour)', { fontSize: 15, align: 'center' }),
        txt(704, 799, 'Time (hour)', { fontSize: 15, align: 'center' }),
        txt(72, 312, 'Connectance follows GCN', { fontSize: 16 }),
        txt(415, 312, '18 survived', { fontSize: 16, align: 'right' }),
        txt(70, 566, 'Connectance follows PCN', { fontSize: 16 }),
        txt(417, 566, '38 survived', { fontSize: 16, align: 'right' }),
        txt(533, 314, 'Connectance follows GCN', { fontSize: 16 }),
        txt(877, 314, '28 survived', { fontSize: 16, align: 'right' }),
        txt(532, 569, 'Connectance follows PCN', { fontSize: 16 }),
        txt(878, 569, '41 survived', { fontSize: 16, align: 'right' }),
        txt(412, 62, '{i|D} = 0.2 hour{s|\u22121}, {i|\u03c1} = 0.2', { fontSize: 18, align: 'right', rich: annoRich }),
        txt(872, 62, '{i|D} = 0.2 hour{s|\u22121}, {l|\u2113} = 0.5', { fontSize: 18, align: 'right', rich: annoRich }),
        ...legendEls(67, 49, 103),
        ...legendEls(528, 49, 106),
      ],
    };
    chart.setOption(option);
    return () => chart.dispose();
  }, []);
  return <div ref={ref} style={{ width: 899, height: 818 }} />;
}
